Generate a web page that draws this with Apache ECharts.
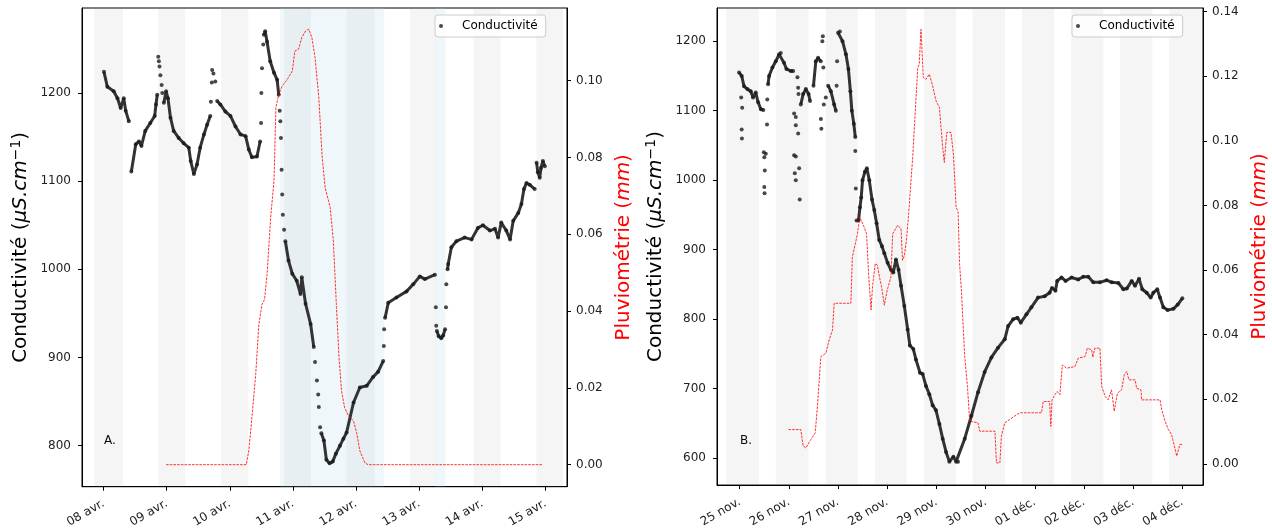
<!DOCTYPE html>
<html>
<head>
<meta charset="utf-8" />
<title>Conductivité et pluviométrie</title>
<script src="https://cdn.jsdelivr.net/npm/echarts@6.0.0/dist/echarts.min.js"></script>
<style>
    html, body { margin: 0; padding: 0; background: #ffffff; }
    #chart { width: 1272px; height: 530px; }
</style>
</head>
<body>
<div id="chart"></div>
<script type="text/javascript">
    /* temps en jours : A depuis le 08 avr. 00h, B depuis le 25 nov. 00h */
    var ticksA = ['08 avr.', '09 avr.', '10 avr.', '11 avr.', '12 avr.', '13 avr.', '14 avr.', '15 avr.'];
    var ticksB = ['25 nov.', '26 nov.', '27 nov.', '28 nov.', '29 nov.', '30 nov.', '01 déc.', '02 déc.', '03 déc.', '04 déc.'];
    var condTicksA = [800, 900, 1000, 1100, 1200];
    var condTicksB = [600, 700, 800, 900, 1000, 1100, 1200];
    var pluieTicksA = [0, 0.02, 0.04, 0.06, 0.08, 0.10];
    var pluieTicksB = [0, 0.02, 0.04, 0.06, 0.08, 0.10, 0.12, 0.14];

    // nuits (gris) et épisodes pluvieux (bleu)
    var nuitsA = [[-0.147, 0.307], [0.865, 1.293], [1.862, 2.294], [2.859, 3.286], [3.851, 4.294], [4.853, 5.264], [5.861, 6.289], [6.857, 7.279]];
    var pluiesA = [[2.796, 4.446], [5.256, 5.418]];
    var nuitsB = [[-0.271, 0.387], [0.733, 1.399], [1.751, 2.397], [2.749, 3.394], [3.747, 4.398], [4.738, 5.396], [5.737, 6.394], [6.740, 7.392], [7.731, 8.392], [8.73, 9.39]];

    // conductivité A : tronçons continus + points isolés
    var condA = [
        [[0.006, 1224], [0.06, 1207], [0.16, 1202], [0.22, 1194], [0.27, 1183], [0.32, 1194], [0.35, 1180], [0.40, 1168]],
        [[0.44, 1111], [0.51, 1142], [0.56, 1145], [0.60, 1140], [0.66, 1157], [0.74, 1166], [0.81, 1174], [0.83, 1187], [0.85, 1198]],
        [[0.955, 1189], [0.99, 1202], [1.02, 1194], [1.06, 1172], [1.11, 1157], [1.19, 1149], [1.27, 1143], [1.35, 1138], [1.38, 1123], [1.43, 1108], [1.48, 1119], [1.53, 1138], [1.59, 1153], [1.64, 1164], [1.69, 1174]],
        [[1.80, 1191], [1.85, 1187], [1.93, 1179], [2.01, 1174], [2.09, 1162], [2.17, 1153], [2.25, 1151], [2.30, 1136], [2.35, 1127], [2.43, 1128], [2.48, 1145]],
        [[2.54, 1266], [2.56, 1270], [2.59, 1258], [2.64, 1236], [2.70, 1223], [2.75, 1215], [2.775, 1198]],
        [[2.88, 1032], [2.93, 1010], [2.99, 995], [3.06, 987], [3.12, 972], [3.14, 991], [3.20, 961], [3.28, 938], [3.33, 912]],
        [[3.45, 814], [3.49, 806], [3.53, 784], [3.58, 780], [3.63, 782], [3.68, 791], [3.745, 800], [3.80, 808], [3.85, 815], [3.96, 849], [4.06, 866], [4.17, 868], [4.27, 878], [4.35, 884], [4.43, 896]],
        [[4.46, 945], [4.51, 962], [4.64, 968], [4.80, 975], [4.905, 983], [5.01, 992], [5.09, 989], [5.25, 994]],
        [[5.28, 930], [5.31, 924], [5.35, 922], [5.38, 925], [5.41, 932]],
        [[5.45, 1000], [5.46, 1006], [5.51, 1025], [5.59, 1032], [5.72, 1036], [5.83, 1034], [5.93, 1047], [6.01, 1050], [6.12, 1044], [6.20, 1046], [6.25, 1036], [6.30, 1053], [6.38, 1044], [6.44, 1034], [6.49, 1055], [6.57, 1064], [6.62, 1074], [6.66, 1091], [6.70, 1098], [6.75, 1096], [6.83, 1091]],
        [[6.86, 1121], [6.88, 1110], [6.91, 1104], [6.93, 1115], [6.96, 1123], [6.99, 1117]]
    ];
    var condPointsA = [[0.866, 1241], [0.876, 1236], [0.886, 1230], [0.90, 1220], [0.92, 1209], [0.93, 1200],
        [1.70, 1190], [1.715, 1212], [1.72, 1226], [1.74, 1222], [1.77, 1213],
        [2.495, 1166], [2.50, 1200], [2.51, 1228], [2.53, 1255],
        [2.79, 1180], [2.80, 1168], [2.81, 1149], [2.82, 1113], [2.83, 1085], [2.84, 1062], [2.86, 1045],
        [3.35, 895], [3.38, 874], [3.40, 858], [3.41, 844], [3.43, 821],
        [4.44, 913], [4.445, 932], [5.264, 957], [5.27, 936], [5.425, 957], [5.43, 983]];

    var pluieA = [[0.99, 0], [2.26, 0], [2.30, 0.0036], [2.35, 0.0122], [2.41, 0.0235], [2.46, 0.0365], [2.51, 0.0417], [2.55, 0.043], [2.59, 0.0496], [2.65, 0.065], [2.70, 0.0739], [2.73, 0.093], [2.775, 0.0964], [2.83, 0.0986], [2.91, 0.1003], [2.99, 0.1025], [3.03, 0.1077], [3.09, 0.1082], [3.14, 0.1112], [3.20, 0.1129], [3.25, 0.1134], [3.30, 0.1112], [3.35, 0.106], [3.41, 0.0956], [3.46, 0.0808], [3.51, 0.0721], [3.53, 0.0721], [3.59, 0.067], [3.64, 0.0583], [3.69, 0.0409], [3.73, 0.0279], [3.77, 0.0192], [3.82, 0.0148], [3.88, 0.0127], [3.96, 0.0114], [4.01, 0.0083], [4.06, 0.0036], [4.14, 0.0005], [4.19, 0], [6.96, 0]];

    // conductivité B
    var condB = [
        [[-0.014, 1155], [0.04, 1150], [0.088, 1135], [0.156, 1131], [0.224, 1128], [0.27, 1119], [0.326, 1126], [0.374, 1112], [0.43, 1102], [0.48, 1101]],
        [[0.576, 1138], [0.597, 1150], [0.665, 1162], [0.733, 1171], [0.80, 1181], [0.835, 1183], [0.90, 1169], [0.95, 1160], [1.04, 1157], [1.086, 1157]],
        [[1.242, 1109], [1.29, 1124], [1.344, 1131], [1.40, 1124], [1.43, 1114]],
        [[1.50, 1136], [1.547, 1171], [1.594, 1176], [1.648, 1171]],
        [[1.798, 1136], [1.853, 1128], [1.92, 1109], [1.955, 1100]],
        [[2.0, 1212], [2.036, 1214], [2.09, 1200], [2.16, 1181], [2.21, 1160], [2.25, 1128], [2.28, 1100], [2.32, 1081], [2.35, 1062]],
        [[2.415, 942], [2.445, 961], [2.47, 975], [2.497, 1000], [2.545, 1012], [2.586, 1017], [2.634, 1000], [2.69, 972], [2.736, 957], [2.783, 938], [2.837, 914], [2.892, 905], [2.94, 895], [3.007, 881], [3.075, 871], [3.122, 867], [3.177, 886], [3.23, 871], [3.28, 848], [3.347, 819], [3.415, 785], [3.46, 762], [3.53, 757], [3.583, 742], [3.665, 723], [3.72, 721], [3.787, 704], [3.855, 692], [3.923, 676], [3.99, 669], [4.06, 649], [4.127, 628], [4.195, 609], [4.263, 595], [4.345, 602], [4.40, 595], [4.439, 595], [4.575, 628], [4.711, 661], [4.846, 695], [4.98, 724], [5.118, 745], [5.253, 759], [5.389, 771], [5.457, 790], [5.56, 800], [5.647, 802], [5.715, 795], [5.83, 807], [5.93, 817], [6.066, 831], [6.2, 833], [6.3, 838], [6.35, 845], [6.42, 841], [6.455, 855], [6.543, 860], [6.625, 855], [6.748, 860], [6.883, 857], [6.985, 861], [7.087, 861], [7.189, 853], [7.325, 853], [7.46, 856], [7.563, 853], [7.70, 852], [7.80, 843], [7.87, 844], [7.97, 855], [8.038, 848], [8.12, 858], [8.186, 843], [8.275, 838], [8.356, 831], [8.41, 838], [8.49, 843], [8.546, 831], [8.614, 817], [8.70, 813], [8.82, 815], [8.906, 821], [9.0, 830]]
    ];
    var condPointsB = [[0.03, 1119], [0.05, 1104], [0.04, 1073], [0.045, 1060],
        [0.49, 1040], [0.50, 1033], [0.51, 1014], [0.50, 990], [0.505, 981], [0.53, 1038], [0.555, 1080], [0.56, 1116],
        [1.106, 1096], [1.14, 1091], [1.14, 1079], [1.188, 1067], [1.106, 1036], [1.14, 1034], [1.12, 1010], [1.14, 1000], [1.208, 1017], [1.22, 972], [1.174, 1148], [1.188, 1133], [1.195, 1124],
        [1.68, 1200], [1.69, 1207], [1.65, 1088], [1.66, 1074], [1.70, 1162], [1.71, 1109], [1.75, 1119],
        [1.97, 1136], [1.98, 1171], [2.35, 1042], [2.36, 988], [2.375, 942]];

    var pluieB = [[0.991, 0.0106], [1.242, 0.0106], [1.29, 0.0055], [1.344, 0.0049], [1.446, 0.0075], [1.535, 0.0096], [1.58, 0.0178], [1.65, 0.0332], [1.75, 0.0342], [1.82, 0.0384], [1.853, 0.0399], [1.887, 0.0414], [1.92, 0.0497], [2.26, 0.0497], [2.29, 0.064], [2.395, 0.0712], [2.44, 0.0764], [2.53, 0.0733], [2.58, 0.0712], [2.62, 0.0589], [2.67, 0.0476], [2.70, 0.0548], [2.756, 0.062], [2.80, 0.0615], [2.84, 0.0579], [2.885, 0.0548], [2.94, 0.0491], [3.0, 0.0538], [3.075, 0.0579], [3.11, 0.0712], [3.21, 0.0738], [3.28, 0.0728], [3.31, 0.063], [3.35, 0.0646], [3.39, 0.0692], [3.435, 0.0774], [3.517, 0.0949], [3.62, 0.1226], [3.65, 0.1237], [3.686, 0.1345], [3.733, 0.1196], [3.787, 0.119], [3.855, 0.1206], [3.923, 0.117], [3.99, 0.1124], [4.06, 0.1103], [4.127, 0.098], [4.16, 0.0933], [4.21, 0.1026], [4.296, 0.1026], [4.345, 0.0959], [4.40, 0.0795], [4.44, 0.078], [4.47, 0.062], [4.507, 0.0538], [4.575, 0.0332], [4.63, 0.024], [4.677, 0.0132], [4.846, 0.0127], [4.88, 0.0101], [5.19, 0.0101], [5.22, 0.0003], [5.29, 0.0003], [5.32, 0.0085], [5.39, 0.0127], [5.49, 0.0137], [5.63, 0.0152], [5.695, 0.0158], [6.136, 0.0158], [6.17, 0.0193], [6.30, 0.0193], [6.326, 0.0116], [6.35, 0.0198], [6.41, 0.0214], [6.455, 0.0224], [6.51, 0.0214], [6.56, 0.0306], [6.645, 0.0296], [6.815, 0.0301], [6.883, 0.0327], [7.02, 0.0332], [7.07, 0.0358], [7.156, 0.0353], [7.18, 0.033], [7.22, 0.0358], [7.325, 0.0358], [7.36, 0.024], [7.43, 0.0209], [7.49, 0.0198], [7.56, 0.0229], [7.615, 0.0163], [7.68, 0.0219], [7.765, 0.0229], [7.82, 0.0276], [7.87, 0.0286], [7.914, 0.026], [8.04, 0.026], [8.07, 0.0234], [8.16, 0.0229], [8.17, 0.0198], [8.546, 0.0198], [8.58, 0.0168], [8.648, 0.0132], [8.716, 0.0106], [8.78, 0.0091], [8.838, 0.0055], [8.886, 0.0024], [8.92, 0.0026], [8.95, 0.006], [9.0, 0.006]];

    var FONT = 'DejaVu Sans';
    var GRIS = 'rgba(128,128,128,0.08)';
    var BLEU = 'rgba(173,216,230,0.2)';

    function bandes(nuits, pluies) {
        var out = [];
        nuits.forEach(function (b) {
            out.push([{xAxis: b[0], itemStyle: {color: GRIS}}, {xAxis: b[1]}]);
        });
        pluies.forEach(function (b) {
            out.push([{xAxis: b[0], itemStyle: {color: BLEU}}, {xAxis: b[1]}]);
        });
        return out;
    }

    function xAxe(grid, ticks, min, max) {
        var vals = ticks.map(function (t, i) { return i; });
        return {
            type: 'value', gridIndex: grid, min: min, max: max,
            axisLine: {show: true, onZero: false, lineStyle: {color: '#000', width: 1}},
            axisTick: {show: true, length: 4, customValues: vals, lineStyle: {color: '#000'}},
            axisLabel: {
                customValues: vals, rotate: 30, margin: 16, fontSize: 12, fontFamily: FONT, color: '#222',
                formatter: function (v) { return ticks[Math.round(v)]; }
            },
            splitLine: {show: false}
        };
    }

    function yAxe(grid, pos, min, max, vals, dec, name, couleur, gap, marge) {
        return {
            type: 'value', gridIndex: grid, position: pos, min: min, max: max,
            axisLine: {show: true, onZero: false, lineStyle: {color: '#000', width: 1}},
            axisTick: {show: true, length: 4, customValues: vals, lineStyle: {color: '#000'}},
            axisLabel: {
                customValues: vals, margin: marge, fontSize: 12, fontFamily: FONT, color: '#222',
                formatter: function (v) { return v.toFixed(dec); }
            },
            splitLine: {show: false},
            name: name, nameLocation: 'middle', nameGap: gap,
            nameTextStyle: {
                color: couleur, fontFamily: FONT, fontSize: 20,
                rich: {
                    a: {color: couleur, fontFamily: FONT, fontSize: 20, lineHeight: 24},
                    b: {color: couleur, fontFamily: FONT, fontSize: 20, lineHeight: 24, fontStyle: 'italic'},
                    c: {color: couleur, fontFamily: FONT, fontSize: 14, lineHeight: 14, verticalAlign: 'top'}
                }
            }
        };
    }

    var nomCond = '{a|Conductivité (}{b|μS.cm}{c|−1}{a|)}';
    var nomPluie = '{a|Pluviométrie (}{b|mm}{a|)}';

    var series = [];
    function ajoute(xi, yi, segs, points, pluie, zones) {
        var tous = [];
        segs.forEach(function (s) {
            series.push({
                type: 'line', xAxisIndex: xi, yAxisIndex: yi, data: s, showSymbol: false, silent: true,
                lineStyle: {color: '#333333', width: 3}, z: 2
            });
            tous = tous.concat(s);
        });
        tous = tous.concat(points);
        series.push({
            type: 'scatter', name: 'Conductivité', xAxisIndex: xi, yAxisIndex: yi, data: tous,
            symbolSize: 4, itemStyle: {color: '#1a1a1a'}, z: 3, silent: true
        });
        series.push({
            type: 'line', xAxisIndex: xi, yAxisIndex: yi + 1, data: pluie, showSymbol: false, silent: true,
            lineStyle: {color: '#ff0000', width: 0.8, type: [2.6, 1.1]}, z: 4,
            markArea: {silent: true, data: zones}
        });
    }
    ajoute(0, 0, condA, condPointsA, pluieA, bandes(nuitsA, pluiesA));
    ajoute(1, 2, condB, condPointsB, pluieB, bandes(nuitsB, []));

    function legende(x) {
        return {
            data: ['Conductivité'], left: x, top: 15, icon: 'circle', itemWidth: 32, itemHeight: 4,
            padding: [4, 8, 4, 4], backgroundColor: 'rgba(255,255,255,0.8)',
            borderColor: '#cccccc', borderWidth: 1, borderRadius: 3,
            textStyle: {fontSize: 12, fontFamily: FONT, color: '#000', lineHeight: 14}
        };
    }

    var myChart = echarts.init(document.getElementById('chart'));
    var option = {
        animation: false,
        backgroundColor: '#ffffff',
        grid: [
            {left: 82, right: 705, top: 8, bottom: 43, show: true, borderColor: '#000', borderWidth: 1, backgroundColor: 'transparent'},
            {left: 717, right: 69, top: 8, bottom: 43, show: true, borderColor: '#000', borderWidth: 1, backgroundColor: 'transparent'}
        ],
        xAxis: [xAxe(0, ticksA, -0.342, 7.342), xAxe(1, ticksB, -0.462, 9.42)],
        yAxis: [
            yAxe(0, 'left', 753.5, 1296.4, condTicksA, 0, nomCond, '#000', 49, 11),
            yAxe(0, 'right', -0.00573, 0.1189, pluieTicksA, 2, nomPluie, '#ff0000', 45, 9),
            yAxe(1, 'left', 561.3, 1247.7, condTicksB, 0, nomCond, '#000', 49, 11),
            yAxe(1, 'right', -0.00657, 0.1411, pluieTicksB, 2, nomPluie, '#ff0000', 45, 9)
        ],
        legend: [legende(435), legende(1072)],
        graphic: [
            {type: 'text', left: 104, top: 435, style: {text: 'A.', font: '12px "DejaVu Sans"', fill: '#000'}},
            {type: 'text', left: 740, top: 435, style: {text: 'B.', font: '12px "DejaVu Sans"', fill: '#000'}}
        ],
        series: series
    };
    myChart.setOption(option);
</script>
</body>
</html>
